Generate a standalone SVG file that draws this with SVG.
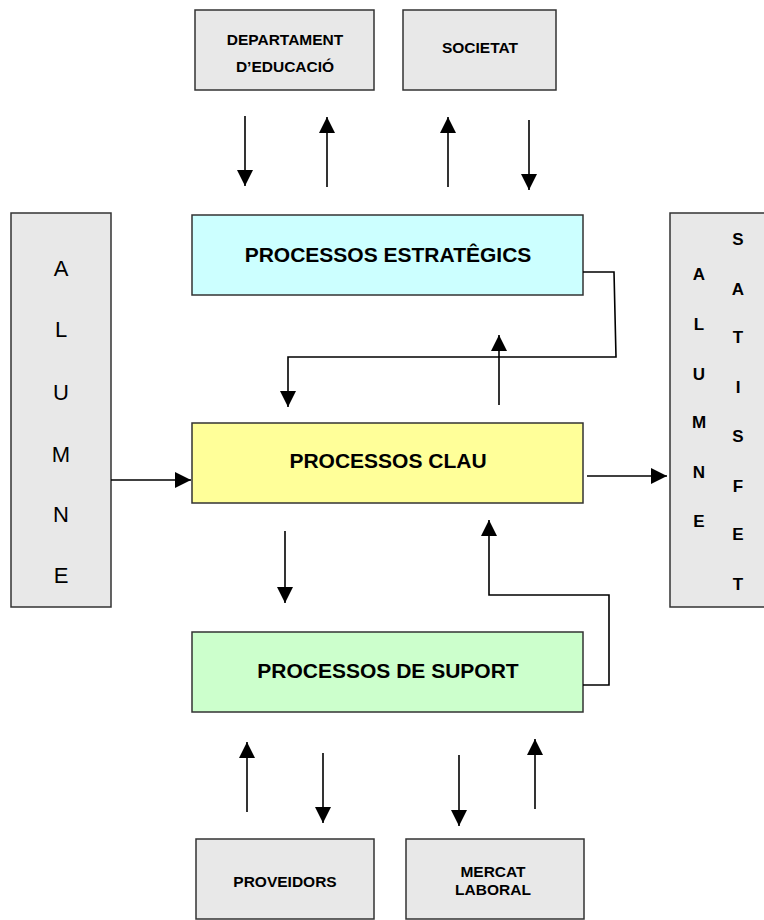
<svg xmlns="http://www.w3.org/2000/svg" width="764" height="920" viewBox="0 0 764 920">
<defs>
<style>
.box{stroke:#333;stroke-width:1.5}
.gray{fill:#e8e8e8}
.t{font-family:"Liberation Sans",Arial,sans-serif;font-weight:bold;fill:#000;text-anchor:middle}
.big{font-size:21px}
.sm{font-size:15.5px}
.side{font-family:"Liberation Sans",Arial,sans-serif;font-size:22px;fill:#000;text-anchor:middle}
.sideb{font-family:"Liberation Sans",Arial,sans-serif;font-size:17px;font-weight:bold;fill:#000;text-anchor:middle}
.c{stroke:#000;stroke-width:1.6;fill:none}
.a{marker-end:url(#ah)}
</style>
<marker id="ah" markerUnits="userSpaceOnUse" markerWidth="16" markerHeight="16" viewBox="0 0 16 16" refX="16" refY="8" orient="auto">
<path d="M0,0 L16,8 L0,16 z" fill="#000"/>
</marker>
</defs>
<rect width="764" height="920" fill="#fff"/>

<g id="dept">
<rect class="box gray" x="195" y="10" width="179" height="80"/>
<text class="t sm" x="285" y="45">DEPARTAMENT</text>
<text class="t sm" x="285" y="72">D’EDUCACIÓ</text>
</g>
<g id="societat">
<rect class="box gray" x="403" y="10" width="153" height="80"/>
<text class="t sm" x="480" y="53">SOCIETAT</text>
</g>
<g id="estrategics">
<rect class="box" fill="#ccffff" x="192" y="215" width="391" height="80"/>
<text class="t big" x="388" y="262">PROCESSOS ESTRATÊGICS</text>
</g>
<g id="clau">
<rect class="box" fill="#ffff99" x="192" y="423" width="391" height="80"/>
<text class="t big" x="388" y="468">PROCESSOS CLAU</text>
</g>
<g id="suport">
<rect class="box" fill="#ccffcc" x="192" y="632" width="391" height="80"/>
<text class="t big" x="388" y="678">PROCESSOS DE SUPORT</text>
</g>
<g id="alumne">
<rect class="box gray" x="11" y="213" width="100" height="394"/>
<text class="side" x="61" y="276">A</text>
<text class="side" x="61" y="337">L</text>
<text class="side" x="61" y="400">U</text>
<text class="side" x="61" y="462">M</text>
<text class="side" x="61" y="522">N</text>
<text class="side" x="61" y="583">E</text>
</g>
<g id="alumne-satisfet">
<rect class="box gray" x="670" y="213" width="100" height="394"/>
<text class="sideb" x="699" y="280">A</text>
<text class="sideb" x="699" y="330">L</text>
<text class="sideb" x="699" y="380">U</text>
<text class="sideb" x="699" y="428">M</text>
<text class="sideb" x="699" y="478">N</text>
<text class="sideb" x="699" y="527">E</text>
<text class="sideb" x="738" y="245">S</text>
<text class="sideb" x="738" y="295">A</text>
<text class="sideb" x="738" y="343">T</text>
<text class="sideb" x="738" y="393">I</text>
<text class="sideb" x="738" y="442">S</text>
<text class="sideb" x="738" y="492">F</text>
<text class="sideb" x="738" y="540">E</text>
<text class="sideb" x="738" y="590">T</text>
</g>
<g id="proveidors">
<rect class="box gray" x="196" y="839" width="178" height="80"/>
<text class="t sm" x="285" y="887">PROVEIDORS</text>
</g>
<g id="mercat">
<rect class="box gray" x="406" y="839" width="178" height="80"/>
<text class="t sm" x="493" y="877">MERCAT</text>
<text class="t sm" x="493" y="895">LABORAL</text>
</g>

<g id="connectors">
<line class="c a" x1="245" y1="116" x2="245" y2="186"/>
<line class="c a" x1="327" y1="187" x2="327" y2="117"/>
<line class="c a" x1="448" y1="187" x2="448" y2="117"/>
<line class="c a" x1="529" y1="120" x2="529" y2="190"/>
<polyline class="c a" points="583,272 614,272 616,357 288,357 288,407"/>
<line class="c a" x1="499" y1="405" x2="499" y2="335"/>
<line class="c a" x1="111" y1="480" x2="191" y2="480"/>
<line class="c a" x1="587" y1="476" x2="667" y2="476"/>
<line class="c a" x1="285" y1="531" x2="285" y2="603"/>
<polyline class="c a" points="583,685 609,685 609,595 489,595 489,520"/>
<line class="c a" x1="247" y1="812" x2="247" y2="742"/>
<line class="c a" x1="323" y1="753" x2="323" y2="823"/>
<line class="c a" x1="459" y1="755" x2="459" y2="826"/>
<line class="c a" x1="535" y1="809" x2="535" y2="739"/>
</g>
</svg>
